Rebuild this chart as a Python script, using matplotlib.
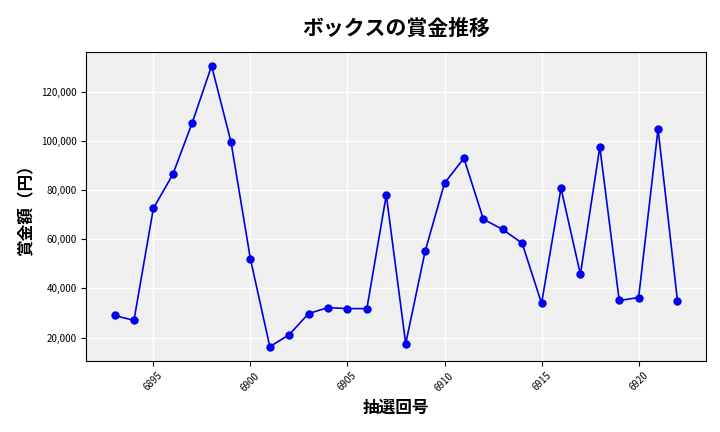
import matplotlib
matplotlib.use("Agg")
import matplotlib.pyplot as plt
from matplotlib.ticker import FuncFormatter

plt.rcParams['font.family'] = ['Noto Sans CJK JP', 'DejaVu Sans']

draws = list(range(6893, 6923))
prizes = [29000, 27000, 72600, 86400, 107400, 130600, 99600, 52000, 16300, 21200,
          29800, 32200, 31800, 31800, 78000, 17500, 55100, 82900, 93000, 68200,
          64000, 58400, 33900, 80800, 45700, 97600, 35100, 36300, 104900, 35000]

fig, ax = plt.subplots(figsize=(7.2, 4.32), dpi=100)
ax.set_facecolor('#efefef')
ax.grid(True, color='white', linewidth=1)
ax.set_axisbelow(True)
ax.plot(draws, prizes, color='#0000dd', marker='o', markersize=5,
        markerfacecolor='blue', linewidth=1.2)

ax.set_title('ボックスの賞金推移', fontsize=15, fontweight='bold', pad=12)
ax.set_xlabel('抽選回号', fontsize=12, fontweight='bold')
ax.set_ylabel('賞金額（円）', fontsize=12, fontweight='bold')
ax.set_xticks([6895, 6900, 6905, 6910, 6915, 6920])
ax.tick_params(axis='x', labelsize=7, rotation=45)
ax.tick_params(axis='y', labelsize=7)
ax.yaxis.set_major_formatter(FuncFormatter(lambda v, p: f'{int(v):,}'))

plt.tight_layout()
fig.subplots_adjust(left=0.12, right=0.98, top=0.88, bottom=0.165)
fig.savefig('out.png')
